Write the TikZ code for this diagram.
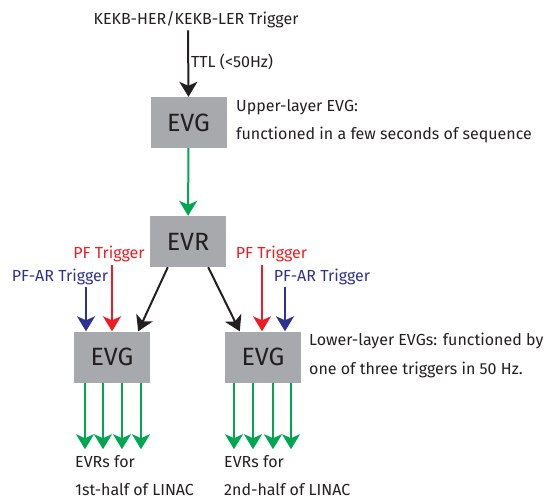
\documentclass[tikz,border=0pt]{standalone}
\usepackage{fontspec}
\setmainfont{Fira Sans}
\usetikzlibrary{arrows.meta,positioning,calc}
\definecolor{boxgray}{RGB}{167,169,172}
\definecolor{sigred}{RGB}{237,28,36}
\definecolor{sigblue}{RGB}{46,49,146}
\definecolor{siggreen}{RGB}{0,166,81}
\definecolor{ink}{RGB}{35,31,32}

\begin{document}
\begin{tikzpicture}[x=1pt,y=-1pt,
  unit/.style={fill=boxgray,minimum width=76pt,minimum height=51pt,inner sep=0pt,
    text=ink,font=\fontsize{25}{25}\selectfont},
  lbl/.style={inner sep=0pt,text=ink,font=\fontsize{16}{16}\selectfont},
  note/.style={inner sep=0pt,text=ink,align=left,anchor=west,font=\fontsize{16}{28}\selectfont},
  sig/.style={line width=2pt,-{Stealth[length=15pt,width=18pt,inset=4pt]}}]
  \useasboundingbox (0,0) rectangle (545,499);

  % boxes
  \node[unit] (evgU) at (188.5,122.5) {EVG};
  \node[unit] (evr)  at (188,241.5) {EVR};
  \node[unit] (evgA) at (112,357) {EVG};
  \node[unit] (evgB) at (263,357) {EVG};

  % texts
  \node[lbl] (trig) at (196,20) {KEKB-HER/KEKB-LER Trigger};
  \node[lbl,anchor=west] (ttl) at (191,62) {TTL (<50Hz)};
  \node[note] (upnote) at (236,121) {Upper-layer EVG:\\functioned in a few seconds of sequence};
  \node[note,font=\fontsize{16}{29}\selectfont] (lownote) at (309,355.5) {Lower-layer EVGs: functioned by\\one of three triggers in 50 Hz.};
  \node[lbl,text=sigred]  (pfL)   at (109,254) {PF Trigger};
  \node[lbl,text=sigblue] (pfarL) at (60,277)  {PF-AR Trigger};
  \node[lbl,text=sigred]  (pfR)   at (271.5,254) {PF Trigger};
  \node[lbl,text=sigblue] (pfarR) at (322,277) {PF-AR Trigger};
  \node[note] (evrsA) at (75,475.5) {EVRs for\\1st-half of LINAC};
  \node[note] (evrsB) at (224,475.5) {EVRs for\\2nd-half of LINAC};

  % connectors
  \draw[sig,ink] ($(trig.south)+(-8,2)$) -- (evgU.north);
  \draw[sig,siggreen] (evgU) -- (evr);
  \draw[sig,ink] ($(evr.south west)+(18,0)$) -- ($(evgA.north east)+(-12,0)$);
  \draw[sig,ink] ($(evr.south east)+(-18,0)$) -- ($(evgB.north west)+(15,0)$);
  \draw[sig,sigred]  ($(evgA.north)+(0,-66.5)$) -- (evgA.north);
  \draw[sig,sigblue] ($(evgA.north)+(-26,-44.5)$) -- ($(evgA.north)+(-26,0)$);
  \draw[sig,sigred]  ($(evgB.north)+(-1,-66.5)$) -- ($(evgB.north)+(-1,0)$);
  \draw[sig,sigblue] ($(evgB.north)+(22,-44.5)$) -- ($(evgB.north)+(22,0)$);
  \foreach \dx in {-27,-9,10,29}
    \draw[sig,siggreen] ($(evgA.south)+(\dx,0)$) -- ($(evgA.south)+(\dx,66.5)$);
  \foreach \dx in {-29,-10,10,28}
    \draw[sig,siggreen] ($(evgB.south)+(\dx,0)$) -- ($(evgB.south)+(\dx,66.5)$);
\end{tikzpicture}
\end{document}
